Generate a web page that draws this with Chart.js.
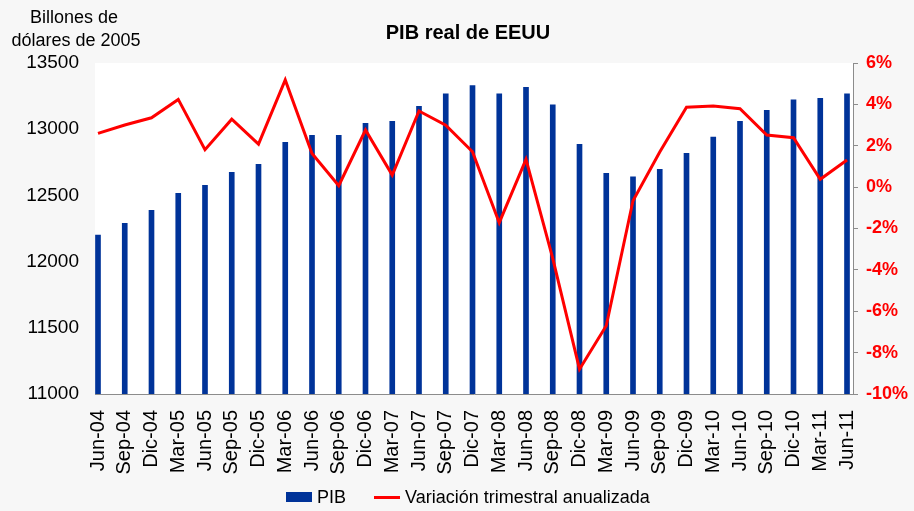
<!DOCTYPE html>
<html lang="es">
<head>
<meta charset="utf-8">
<title>PIB real de EEUU</title>
<script src="https://cdn.jsdelivr.net/npm/chart.js@4.4.1/dist/chart.umd.min.js"></script>
<style>
    html, body {
        margin: 0;
        padding: 0;
        background: #f7f7f7;
    }
    #chart-container {
        position: relative;
        width: 914px;
        height: 511px;
    }
    #chart-legend {
        position: absolute;
        left: 286px;
        top: 485px;
        height: 24px;
        display: flex;
        align-items: center;
        font-family: 'Liberation Sans', Arial, Helvetica, sans-serif;
        font-size: 18px;
        color: #000;
        white-space: nowrap;
    }
    .legend-item {
        display: flex;
        align-items: center;
        margin-right: 28px;
    }
    .legend-swatch {
        width: 26px;
        margin-right: 5px;
    }
</style>
</head>
<body>
<div id="chart-container">
    <canvas id="pib-chart" width="914" height="511"></canvas>
    <div id="chart-legend"></div>
</div>
<script>
// --- Data ---
const categories = ["Jun-04", "Sep-04", "Dic-04", "Mar-05", "Jun-05", "Sep-05", "Dic-05", "Mar-06",
    "Jun-06", "Sep-06", "Dic-06", "Mar-07", "Jun-07", "Sep-07", "Dic-07", "Mar-08", "Jun-08",
    "Sep-08", "Dic-08", "Mar-09", "Jun-09", "Sep-09", "Dic-09", "Mar-10", "Jun-10", "Sep-10",
    "Dic-10", "Mar-11", "Jun-11"];

// Billones de dólares de 2005
const pib = [12201, 12289, 12387, 12516, 12576, 12674, 12735, 12901, 12954, 12954, 13044, 13059,
    13173, 13268, 13329, 13268, 13316, 13185, 12886, 12667, 12641, 12697, 12818, 12941, 13059,
    13143, 13221, 13233, 13268];

// Variación trimestral anualizada (%)
const variacion = [2.6, 3.0, 3.35, 4.24, 1.81, 3.28, 2.08, 5.18, 1.63, 0.07, 2.76, 0.58, 3.68,
    2.99, 1.71, -1.72, 1.34, -3.44, -8.8, -6.7, -0.66, 1.7, 3.86, 3.92, 3.79, 2.52, 2.39, 0.38, 1.31];

const leftTicks = [11000, 11500, 12000, 12500, 13000, 13500];
const rightTicks = [-10, -8, -6, -4, -2, 0, 2, 4, 6];

const FONT = "'Liberation Sans', Arial, Helvetica, sans-serif";

document.addEventListener("DOMContentLoaded", () => {
    const ctx = document.getElementById("pib-chart").getContext("2d");

    // Title and left-axis caption, drawn as plain text
    const textPlugin = {
        id: "headerText",
        beforeDraw(chart) {
            const c = chart.ctx;
            const area = chart.chartArea;
            c.save();
            c.fillStyle = "#ffffff";
            c.fillRect(area.left, area.top, area.right - area.left, area.bottom - area.top);
            c.fillStyle = "#000000";
            c.textAlign = "center";
            c.textBaseline = "alphabetic";
            c.font = "bold 20px " + FONT;
            c.fillText("PIB real de EEUU", 468, 39);
            c.font = "18px " + FONT;
            c.fillText("Billones de", 74, 23);
            c.fillText("dólares de 2005", 76, 46);
            c.restore();
        }
    };

    const chart = new Chart(ctx, {
        type: "bar",
        data: {
            datasets: [
                {
                    type: "line",
                    label: "Variación trimestral anualizada",
                    data: variacion.map((v, i) => ({ x: i, y: v })),
                    yAxisID: "y1",
                    borderColor: "#ff0000",
                    backgroundColor: "#ff0000",
                    borderWidth: 3,
                    pointRadius: 0,
                    tension: 0,
                    order: 1
                },
                {
                    type: "bar",
                    label: "PIB",
                    data: pib.map((v, i) => ({ x: i, y: v })),
                    yAxisID: "y",
                    backgroundColor: "#003399",
                    borderWidth: 0,
                    barThickness: 5,
                    base: 11000,
                    order: 2
                }
            ]
        },
        options: {
            responsive: false,
            animation: false,
            layout: { padding: { top: 63, left: 0, right: 0, bottom: 35 } },
            plugins: {
                title: { display: false },
                tooltip: { enabled: false },
                legend: { display: false }
            },
            scales: {
                x: {
                    type: "linear",
                    offset: false,
                    min: -0.112,
                    max: 28.224,
                    afterFit: (scale) => { scale.height = 82; },
                    afterBuildTicks: (scale) => { scale.ticks = categories.map((c, i) => ({ value: i })); },
                    grid: { display: false, drawTicks: false },
                    border: { display: true, color: "#8c8c8c", width: 1 },
                    ticks: {
                        autoSkip: false,
                        minRotation: 90,
                        maxRotation: 90,
                        padding: 16,
                        color: "#000000",
                        font: { family: FONT, size: 20 },
                        callback: (value) => categories[value] ?? ""
                    }
                },
                y: {
                    position: "left",
                    min: leftTicks[0],
                    max: leftTicks[leftTicks.length - 1],
                    afterFit: (scale) => { scale.width = 95; },
                    afterBuildTicks: (scale) => { scale.ticks = leftTicks.map(v => ({ value: v })); },
                    grid: { display: false, drawTicks: false },
                    border: { display: false },
                    ticks: {
                        padding: 16,
                        color: "#000000",
                        font: { family: FONT, size: 19 },
                        callback: (value) => String(value)
                    }
                },
                y1: {
                    position: "right",
                    min: rightTicks[0],
                    max: rightTicks[rightTicks.length - 1],
                    afterFit: (scale) => { scale.width = 61; },
                    afterBuildTicks: (scale) => { scale.ticks = rightTicks.map(v => ({ value: v })); },
                    grid: { display: true, drawOnChartArea: false, tickLength: 5, color: "#8c8c8c" },
                    border: { display: true, color: "#8c8c8c", width: 1 },
                    ticks: {
                        padding: 8,
                        color: "#ff0000",
                        font: { family: FONT, size: 18, weight: "bold" },
                        callback: (value) => value + "%"
                    }
                }
            }
        },
        plugins: [textPlugin]
    });

    // --- Legend (bar first, then line) ---
    const legend = document.getElementById("chart-legend");
    [chart.data.datasets[1], chart.data.datasets[0]].forEach(ds => {
        const item = document.createElement("div");
        item.className = "legend-item";
        const swatch = document.createElement("span");
        swatch.className = "legend-swatch";
        if (ds.type === "line") {
            swatch.style.height = "3px";
            swatch.style.background = ds.borderColor;
        } else {
            swatch.style.height = "10px";
            swatch.style.background = ds.backgroundColor;
        }
        const text = document.createElement("span");
        text.textContent = ds.label;
        item.appendChild(swatch);
        item.appendChild(text);
        legend.appendChild(item);
    });
});
</script>
</body>
</html>
